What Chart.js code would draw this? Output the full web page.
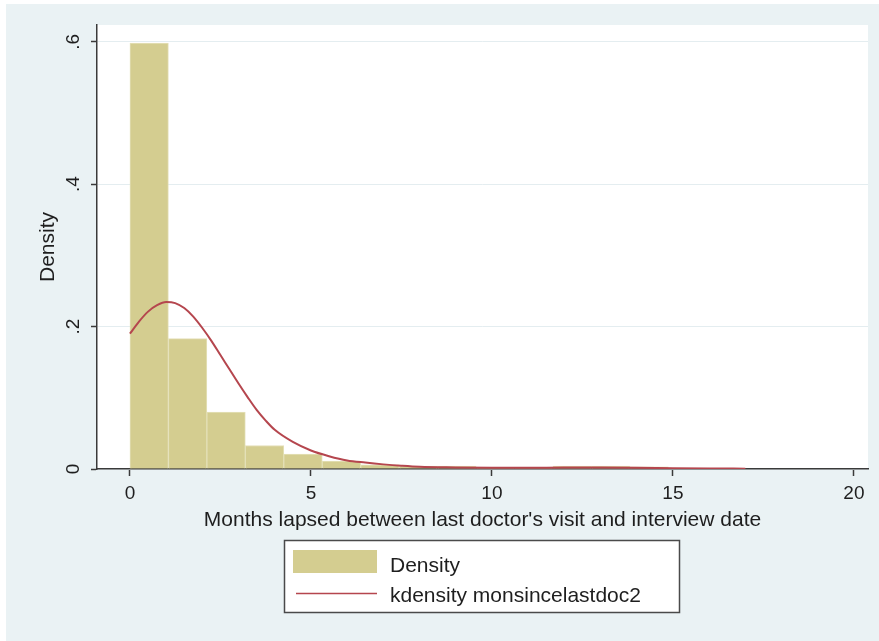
<!DOCTYPE html>
<html>
<head>
<meta charset="utf-8">
<script src="https://cdn.jsdelivr.net/npm/chart.js@4/dist/chart.umd.min.js"></script>
<style>
  html, body { margin: 0; padding: 0; background: #ffffff; }
  #wrap { position: relative; width: 879px; height: 641px; }
</style>
</head>
<body>
<div id="wrap"><canvas id="c" width="879" height="641"></canvas></div>
<script>
// Histogram of months since last doctor's visit (16 equal bins from 0 to 17)
const binStart = 0;
const binWidth = 1.0625;
const histDensity = [0.598, 0.183, 0.080, 0.033, 0.021, 0.011, 0.006, 0.004,
                     0.004, 0.002, 0.002, 0.004, 0.004, 0.003, 0.001, 0.001];

// Kernel density estimate of the same variable
const kdX = [0, 0.25, 0.5, 0.75, 1.0, 1.25, 1.5, 1.75, 2.0, 2.25, 2.5, 2.75, 3.0, 3.25,
             3.5, 3.75, 4.0, 4.5, 5.0, 5.5, 6.0, 6.5, 7.0, 7.5, 8, 9, 10, 11, 12, 13,
             14, 15, 16, 17];
const kdY = [0.190, 0.207, 0.221, 0.230, 0.2345, 0.233, 0.226, 0.214, 0.198, 0.180,
             0.160, 0.140, 0.120, 0.101, 0.083, 0.068, 0.055, 0.038, 0.026, 0.018,
             0.012, 0.009, 0.0065, 0.0045, 0.003, 0.0022, 0.0018, 0.0017, 0.002, 0.002,
             0.0018, 0.0012, 0.0008, 0.0005];

// Axis ticks and labels
const xTicks = [0, 5, 10, 15, 20];
const xTickLabels = ['0', '5', '10', '15', '20'];
const yTicks = [0, 0.2, 0.4, 0.6];
const yTickLabels = ['0', '.2', '.4', '.6'];

const seriesLabels = ['Density', 'kdensity monsincelastdoc2'];
const xTitle = "Months lapsed between last doctor's visit and interview date";
const yTitle = 'Density';

const FONT = '"Liberation Sans", Arial, Helvetica, sans-serif';
const TEXT = '#1e1e1e';
const AXIS = '#3a3a3a';
const BAR_FILL = '#d4cd90';
const BAR_EDGE = '#e4e0b8';
const KD_LINE = '#b5464e';

const histPoints = histDensity.map((d, i) => ({ x: binStart + (i + 0.5) * binWidth, y: d }));
const kdPoints = kdX.map((x, i) => ({ x: x, y: kdY[i] }));

// Stata-like graph region: light blue-grey frame, white plot region
const backdrop = {
  id: 'backdrop',
  beforeDraw(chart) {
    const { ctx, chartArea: a } = chart;
    ctx.save();
    ctx.fillStyle = '#ffffff';
    ctx.fillRect(0, 0, chart.width, chart.height);
    ctx.fillStyle = '#eaf2f4';
    ctx.fillRect(6, 4, chart.width - 6, chart.height - 4);
    ctx.fillStyle = '#ffffff';
    ctx.fillRect(a.left, a.top, a.right - a.left, a.bottom - a.top);
    ctx.restore();
  }
};

// Boxed legend below the x-axis title, one key per row
const boxedLegend = {
  id: 'boxedLegend',
  afterDraw(chart) {
    const ctx = chart.ctx;
    const hist = chart.data.datasets[0];
    const kd = chart.data.datasets[1];
    ctx.save();
    ctx.fillStyle = '#ffffff';
    ctx.fillRect(284.5, 540.5, 395, 72);
    ctx.strokeStyle = '#4a4a4a';
    ctx.lineWidth = 1.5;
    ctx.strokeRect(284.5, 540.5, 395, 72);

    ctx.fillStyle = hist.backgroundColor;
    ctx.fillRect(293, 550, 84, 23);

    ctx.strokeStyle = kd.borderColor;
    ctx.lineWidth = 1.6;
    ctx.beginPath();
    ctx.moveTo(296, 593.5);
    ctx.lineTo(377, 593.5);
    ctx.stroke();

    ctx.fillStyle = TEXT;
    ctx.font = '21px ' + FONT;
    ctx.textBaseline = 'alphabetic';
    ctx.textAlign = 'left';
    ctx.fillText(hist.label, 390, 572);
    ctx.fillText(kd.label, 390, 602);
    ctx.restore();
  }
};

new Chart(document.getElementById('c'), {
  type: 'bar',
  data: {
    datasets: [
      {
        type: 'bar',
        label: seriesLabels[0],
        data: histPoints,
        backgroundColor: BAR_FILL,
        borderColor: BAR_EDGE,
        borderWidth: 1,
        barPercentage: 1.0,
        categoryPercentage: 1.0,
        order: 2
      },
      {
        type: 'line',
        label: seriesLabels[1],
        data: kdPoints,
        borderColor: KD_LINE,
        borderWidth: 2,
        pointRadius: 0,
        fill: false,
        cubicInterpolationMode: 'monotone',
        order: 1
      }
    ]
  },
  options: {
    responsive: false,
    devicePixelRatio: 1,
    animation: false,
    events: [],
    layout: { padding: { left: 36, top: 25, right: 11, bottom: 108 } },
    plugins: { legend: { display: false }, tooltip: { enabled: false } },
    scales: {
      x: {
        type: 'linear',
        min: -0.91,
        max: 20.39,
        offset: false,
        afterBuildTicks: (s) => { s.ticks = xTicks.map(v => ({ value: v })); },
        afterFit: (s) => { s.height = 64; },
        grid: { display: true, drawOnChartArea: false, offset: false, tickLength: 7, tickColor: AXIS, tickWidth: 1.5 },
        border: { display: true, color: AXIS, width: 1.5 },
        ticks: {
          autoSkip: false, maxRotation: 0, minRotation: 0, padding: 6.5,
          color: TEXT, font: { family: FONT, size: 19 },
          callback: (v) => xTickLabels[xTicks.indexOf(v)]
        },
        title: { display: true, text: xTitle, color: TEXT, font: { family: FONT, size: 21 }, padding: 0 }
      },
      y: {
        type: 'linear',
        min: 0,
        max: 0.6235,
        afterBuildTicks: (s) => { s.ticks = yTicks.map(v => ({ value: v })); },
        afterFit: (s) => { s.width = 61; },
        grid: { display: true, drawOnChartArea: true, color: '#e4edf0', lineWidth: 1, tickLength: 6, tickColor: AXIS, tickWidth: 1.5 },
        border: { display: true, color: AXIS, width: 1.5 },
        ticks: {
          autoSkip: false, minRotation: 90, maxRotation: 90, crossAlign: 'center', padding: 9,
          color: TEXT, font: { family: FONT, size: 19 },
          callback: (v) => yTickLabels[yTicks.indexOf(v)]
        },
        title: { display: true, text: yTitle, color: TEXT, font: { family: FONT, size: 21 }, padding: 0 }
      }
    }
  },
  plugins: [backdrop, boxedLegend]
});
</script>
</body>
</html>
